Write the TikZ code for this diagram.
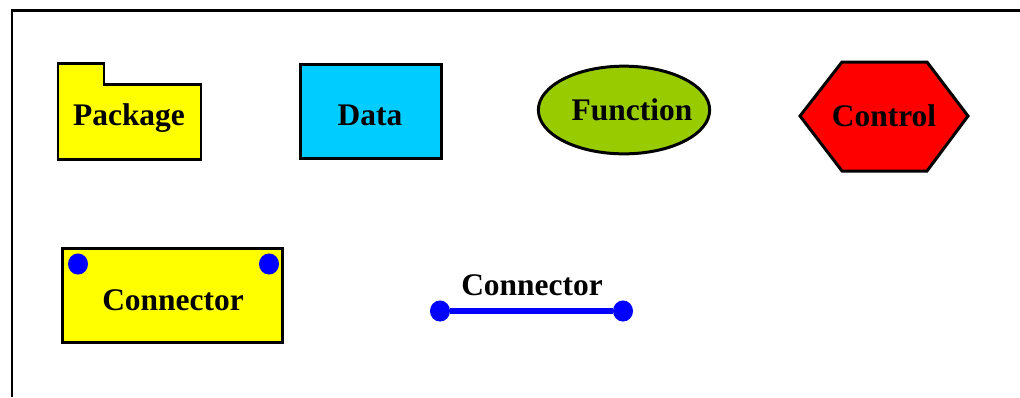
\documentclass[tikz,border=0pt]{standalone}
\usepackage{fontspec}
\setmainfont{Liberation Serif}
\usepackage{tikz}
\usetikzlibrary{shapes.geometric,positioning}

\definecolor{pkgyellow}{HTML}{FFFF00}
\definecolor{datacyan}{HTML}{00CCFF}
\definecolor{funcgreen}{HTML}{99CC00}
\definecolor{ctrlred}{HTML}{FF0000}
\definecolor{portblue}{HTML}{0000FF}

\begin{document}
\begin{tikzpicture}[
  x=0.02cm, y=-0.02cm,
  outline/.style={draw=black,line width=1.7pt,line join=miter},
  lbl/.style={font=\fontsize{17.9}{20}\selectfont\bfseries,inner sep=0pt},
  port/.style={fill=portblue,ellipse,inner sep=0pt,minimum width=11.4pt,minimum height=12pt},
  wire/.style={portblue,line width=3.2pt},
]
\useasboundingbox (0,0) rectangle (1020,397);

% ===================================================================
% Frame (cut off at right and bottom)
% ===================================================================
\draw[line width=1.7pt] (12,397) -- (12,10) -- (1020,10);

% ===================================================================
% Row 1: element kinds
% ===================================================================
% Package: folder with tab
\fill[pkgyellow] (58,63) -- (104,63) -- (104,84) -- (201,84) -- (201,159) -- (58,159) -- cycle;
\draw[outline] (58,63) -- (104,63) -- (104,84) -- (201,84) -- (201,159) -- (58,159) -- cycle;
\node[lbl] (package) at (129,118) {Package};

% Data
\node[outline,fill=datacyan,minimum width=80.5pt,minimum height=53.9pt,inner sep=0pt]
  (data) at (371,111.5) {};
\node[lbl] (datatxt) at (370,115) {Data};

% Function
\node[outline,fill=funcgreen,ellipse,minimum width=97.5pt,minimum height=49.9pt,inner sep=0pt]
  (function) at (624,110) {};
\node[lbl] (functxt) at (632,110) {Function};

% Control
\fill[ctrlred] (800,116) -- (842,62) -- (927,62) -- (968,116) -- (927,171) -- (842,171) -- cycle;
\draw[outline] (800,116) -- (842,62) -- (927,62) -- (968,116) -- (927,171) -- (842,171) -- cycle;
\node[lbl] (control) at (884,116) {Control};

% ===================================================================
% Row 2: connectors
% ===================================================================
% Connector as a box with ports
\node[outline,fill=pkgyellow,minimum width=125.3pt,minimum height=53.9pt,inner sep=0pt]
  (connbox) at (172.5,295.5) {};
\node[lbl] (conntxt) at (173,300) {Connector};
\node[port] (portL) at (78,264) {};
\node[port] (portR) at (269,264) {};

% Connector as a line
\node[port] (endL) at (440,311) {};
\node[port] (endR) at (623,311) {};
\draw[wire] (endL) -- (endR);
\node[lbl] (conntxt2) at (532,285) {Connector};

\end{tikzpicture}
\end{document}
